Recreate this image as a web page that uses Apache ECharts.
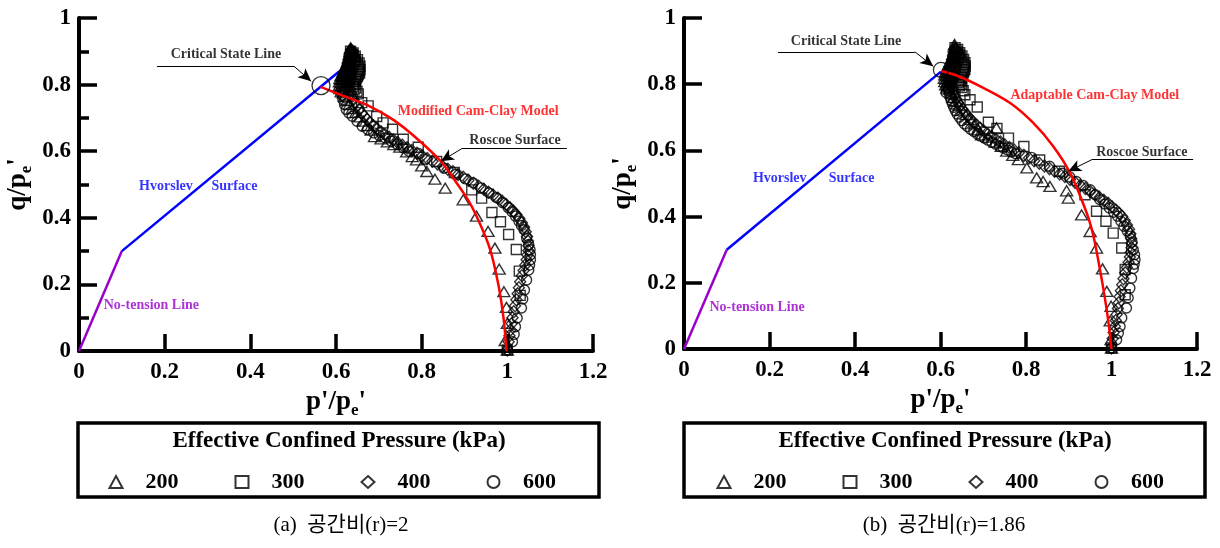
<!DOCTYPE html>
<html><head><meta charset="utf-8">
<script src="https://cdn.jsdelivr.net/npm/echarts@6/dist/echarts.min.js"></script>
<style>html,body{margin:0;padding:0;background:#fff}#c{width:1220px;height:548px}</style>
</head><body><div id="c"></div>
<script>
// ---------- data (panel a: r = 2) ----------
const legendNames = ['200','300','400','600'];
const noTensionA = [[0,0],[0.1,0.3]];
const hvorslevA = [[0.1,0.3],[0.608,0.84]];
const mccA = [[0.564,0.793],[0.617,0.766],[0.672,0.739],[0.734,0.694],[0.788,0.639],[0.843,0.572],[0.876,0.515],[0.91,0.45],[0.935,0.385],[0.96,0.304],[0.979,0.2],[0.991,0.1],[0.998,0.0]];
const cslA = [[0.565,0.797]];
const tri200A = [[0.634,0.91],[0.635,0.9],[0.633,0.89],[0.63,0.878],[0.627,0.868],[0.623,0.858],[0.619,0.848],[0.616,0.838],[0.612,0.828],[0.609,0.818],[0.608,0.808],[0.608,0.798],[0.609,0.788],[0.612,0.778],[0.633,0.905],[0.632,0.895],[0.631,0.885],[0.629,0.875],[0.627,0.865],[0.624,0.855],[0.621,0.845],[0.618,0.835],[0.615,0.825],[0.613,0.815],[0.612,0.805],[0.612,0.795],[0.614,0.785],[0.617,0.775],[0.62,0.765],[0.625,0.752],[0.631,0.74],[0.638,0.728],[0.646,0.716],[0.655,0.703],[0.664,0.69],[0.673,0.677],[0.682,0.663],[0.69,0.644],[0.705,0.637],[0.72,0.628],[0.735,0.62],[0.749,0.612],[0.765,0.598],[0.778,0.584],[0.788,0.574],[0.80,0.556],[0.812,0.539],[0.831,0.516],[0.855,0.489],[0.897,0.454],[0.928,0.405],[0.955,0.359],[0.971,0.309],[0.981,0.246],[0.992,0.178],[0.998,0.131],[1.0,0.083],[0.995,0.031],[1.0,0.003]];
const sq300A = [[0.64,0.895],[0.645,0.885],[0.65,0.875],[0.654,0.865],[0.656,0.855],[0.656,0.845],[0.655,0.835],[0.65,0.825],[0.645,0.815],[0.64,0.805],[0.64,0.795],[0.642,0.785],[0.634,0.9],[0.638,0.89],[0.642,0.88],[0.646,0.87],[0.65,0.86],[0.653,0.85],[0.654,0.84],[0.652,0.83],[0.648,0.82],[0.645,0.81],[0.644,0.80],[0.646,0.79],[0.649,0.78],[0.652,0.772],[0.66,0.746],[0.675,0.736],[0.695,0.704],[0.71,0.685],[0.732,0.666],[0.757,0.636],[0.792,0.612],[0.835,0.569],[0.876,0.536],[0.917,0.484],[0.94,0.459],[0.964,0.416],[0.984,0.388],[1.003,0.35],[1.021,0.305],[1.028,0.24],[1.03,0.167],[1.0,0.003]];
const dia400A = [[0.638,0.9],[0.64,0.89],[0.638,0.88],[0.636,0.87],[0.634,0.86],[0.632,0.85],[0.63,0.84],[0.63,0.83],[0.632,0.82],[0.634,0.81],[0.635,0.905],[0.633,0.895],[0.631,0.885],[0.629,0.875],[0.627,0.865],[0.626,0.855],[0.625,0.845],[0.625,0.835],[0.626,0.825],[0.627,0.815],[0.629,0.805],[0.631,0.795],[0.633,0.785],[0.635,0.775],[0.638,0.765],[0.641,0.755],[0.645,0.745],[0.649,0.735],[0.654,0.725],[0.66,0.715],[0.666,0.705],[0.673,0.695],[0.68,0.685],[0.688,0.676],[0.696,0.667],[0.705,0.658],[0.714,0.65],[0.724,0.642],[0.734,0.634],[0.744,0.626],[0.755,0.618],[0.766,0.61],[0.777,0.602],[0.789,0.594],[0.801,0.586],[0.813,0.578],[0.825,0.57],[0.837,0.562],[0.849,0.554],[0.861,0.546],[0.873,0.538],[0.885,0.53],[0.897,0.522],[0.909,0.513],[0.921,0.504],[0.933,0.495],[0.945,0.486],[0.956,0.477],[0.967,0.468],[0.978,0.459],[0.988,0.45],[0.997,0.44],[1.006,0.43],[1.014,0.42],[1.021,0.41],[1.028,0.398],[1.034,0.385],[1.039,0.372],[1.043,0.358],[1.046,0.344],[1.048,0.33],[1.049,0.316],[1.049,0.302],[1.047,0.288],[1.045,0.274],[1.042,0.258],[1.038,0.242],[1.034,0.226],[1.03,0.208],[1.027,0.19],[1.024,0.172],[1.021,0.154],[1.018,0.136],[1.015,0.118],[1.012,0.1],[1.01,0.082],[1.008,0.064],[1.005,0.046],[1.003,0.028],[1.0,0.003]];
const circ600A = [[0.644,0.88],[0.646,0.87],[0.643,0.86],[0.64,0.85],[0.638,0.84],[0.636,0.83],[0.635,0.82],[0.633,0.81],[0.628,0.8],[0.624,0.79],[0.62,0.78],[0.622,0.76],[0.636,0.9],[0.634,0.89],[0.632,0.88],[0.63,0.87],[0.628,0.86],[0.626,0.85],[0.624,0.84],[0.622,0.83],[0.62,0.82],[0.618,0.81],[0.617,0.80],[0.616,0.79],[0.615,0.78],[0.615,0.768],[0.616,0.755],[0.62,0.74],[0.624,0.725],[0.63,0.715],[0.638,0.705],[0.649,0.69],[0.661,0.675],[0.674,0.665],[0.688,0.655],[0.701,0.647],[0.715,0.64],[0.729,0.63],[0.743,0.62],[0.757,0.61],[0.77,0.60],[0.793,0.593],[0.808,0.576],[0.852,0.549],[0.879,0.53],[0.902,0.517],[0.92,0.505],[0.938,0.49],[0.957,0.475],[0.975,0.46],[0.989,0.445],[1.002,0.43],[1.011,0.418],[1.019,0.405],[1.027,0.39],[1.033,0.377],[1.039,0.364],[1.045,0.339],[1.05,0.32],[1.053,0.304],[1.054,0.289],[1.054,0.274],[1.052,0.258],[1.05,0.243],[1.045,0.213],[1.04,0.183],[1.036,0.156],[1.033,0.129],[1.023,0.099],[1.019,0.073],[1.016,0.05],[1.012,0.028],[1.0,0.003]];

// ---------- data (panel b: r = 1.86) ----------
const noTensionB = [[0,0],[0.1,0.3]];
const hvorslevB = [[0.1,0.3],[0.601,0.838]];
const accB = [[0.603,0.839],[0.642,0.824],[0.70,0.789],[0.763,0.743],[0.817,0.683],[0.864,0.612],[0.903,0.532],[0.942,0.411],[0.958,0.34],[0.973,0.24],[0.985,0.15],[0.994,0.07],[1.0,0.0]];
const cslB = [[0.601,0.843]];
const tri200B = [[0.633,0.92],[0.634,0.91],[0.632,0.9],[0.629,0.888],[0.626,0.878],[0.622,0.868],[0.618,0.858],[0.615,0.848],[0.612,0.838],[0.61,0.828],[0.609,0.818],[0.61,0.808],[0.612,0.798],[0.615,0.788],[0.632,0.915],[0.632,0.905],[0.631,0.895],[0.629,0.885],[0.627,0.875],[0.624,0.865],[0.621,0.855],[0.618,0.845],[0.616,0.835],[0.615,0.825],[0.615,0.815],[0.616,0.805],[0.618,0.795],[0.621,0.785],[0.625,0.773],[0.63,0.76],[0.636,0.748],[0.643,0.735],[0.651,0.722],[0.66,0.708],[0.67,0.694],[0.68,0.68],[0.688,0.662],[0.696,0.647],[0.712,0.64],[0.731,0.668],[0.728,0.625],[0.742,0.612],[0.755,0.598],[0.769,0.585],[0.782,0.572],[0.802,0.547],[0.825,0.517],[0.84,0.506],[0.856,0.491],[0.895,0.478],[0.899,0.456],[0.93,0.405],[0.95,0.355],[0.965,0.305],[0.979,0.242],[0.989,0.174],[0.999,0.129],[0.997,0.085],[0.999,0.028],[1.0,0.003]];
const sq300B = [[0.64,0.905],[0.645,0.895],[0.65,0.885],[0.654,0.875],[0.657,0.865],[0.658,0.855],[0.657,0.845],[0.653,0.835],[0.648,0.825],[0.643,0.815],[0.642,0.805],[0.644,0.795],[0.634,0.91],[0.638,0.9],[0.642,0.89],[0.646,0.88],[0.65,0.87],[0.653,0.86],[0.655,0.85],[0.655,0.84],[0.652,0.83],[0.649,0.82],[0.647,0.81],[0.648,0.80],[0.65,0.79],[0.653,0.78],[0.657,0.768],[0.669,0.753],[0.686,0.731],[0.712,0.685],[0.732,0.666],[0.759,0.637],[0.795,0.612],[0.832,0.571],[0.878,0.537],[0.938,0.466],[0.965,0.416],[0.987,0.386],[1.004,0.35],[1.024,0.305],[1.032,0.24],[1.032,0.164],[1.0,0.003]];
const dia400B = [[0.637,0.905],[0.639,0.895],[0.637,0.885],[0.635,0.875],[0.633,0.865],[0.631,0.855],[0.629,0.845],[0.628,0.835],[0.629,0.825],[0.631,0.815],[0.633,0.905],[0.631,0.895],[0.629,0.885],[0.627,0.875],[0.625,0.865],[0.623,0.855],[0.622,0.845],[0.621,0.835],[0.621,0.825],[0.622,0.815],[0.623,0.805],[0.625,0.795],[0.627,0.785],[0.63,0.775],[0.633,0.765],[0.637,0.755],[0.641,0.745],[0.646,0.735],[0.651,0.725],[0.657,0.715],[0.663,0.705],[0.67,0.695],[0.677,0.685],[0.685,0.676],[0.693,0.667],[0.702,0.658],[0.711,0.649],[0.72,0.641],[0.73,0.633],[0.74,0.625],[0.75,0.617],[0.761,0.609],[0.772,0.601],[0.783,0.593],[0.795,0.585],[0.807,0.577],[0.819,0.569],[0.831,0.561],[0.843,0.553],[0.855,0.545],[0.867,0.537],[0.879,0.529],[0.891,0.521],[0.903,0.512],[0.915,0.503],[0.927,0.494],[0.939,0.485],[0.95,0.476],[0.961,0.467],[0.972,0.458],[0.982,0.449],[0.992,0.44],[1.001,0.43],[1.01,0.42],[1.018,0.41],[1.025,0.4],[1.031,0.388],[1.036,0.375],[1.041,0.362],[1.044,0.348],[1.046,0.334],[1.047,0.32],[1.047,0.306],[1.045,0.292],[1.043,0.278],[1.04,0.262],[1.036,0.246],[1.032,0.23],[1.028,0.212],[1.025,0.194],[1.022,0.176],[1.019,0.158],[1.017,0.14],[1.015,0.122],[1.012,0.104],[1.01,0.086],[1.008,0.068],[1.005,0.05],[1.003,0.032],[1.0,0.003]];
const circ600B = [[0.643,0.89],[0.645,0.88],[0.642,0.87],[0.639,0.86],[0.636,0.85],[0.634,0.84],[0.632,0.83],[0.629,0.82],[0.626,0.81],[0.623,0.80],[0.614,0.79],[0.613,0.775],[0.634,0.9],[0.632,0.89],[0.63,0.88],[0.628,0.87],[0.626,0.86],[0.624,0.85],[0.622,0.84],[0.621,0.83],[0.62,0.82],[0.619,0.81],[0.619,0.80],[0.619,0.79],[0.62,0.78],[0.621,0.77],[0.623,0.76],[0.625,0.75],[0.628,0.74],[0.631,0.73],[0.635,0.72],[0.639,0.71],[0.644,0.70],[0.65,0.69],[0.656,0.68],[0.663,0.672],[0.67,0.664],[0.678,0.657],[0.686,0.65],[0.694,0.643],[0.703,0.637],[0.711,0.631],[0.72,0.625],[0.729,0.619],[0.738,0.613],[0.747,0.607],[0.757,0.601],[0.766,0.595],[0.776,0.59],[0.813,0.579],[0.855,0.552],[0.886,0.531],[0.902,0.52],[0.918,0.506],[0.934,0.494],[0.95,0.481],[0.962,0.466],[0.973,0.451],[0.984,0.438],[0.995,0.426],[1.005,0.413],[1.014,0.401],[1.022,0.386],[1.029,0.371],[1.037,0.356],[1.044,0.341],[1.048,0.323],[1.051,0.30],[1.054,0.285],[1.055,0.27],[1.053,0.256],[1.051,0.243],[1.047,0.214],[1.043,0.184],[1.039,0.155],[1.035,0.124],[1.024,0.094],[1.02,0.068],[1.016,0.048],[1.012,0.028],[1.0,0.003]];

// ---------- annotations (data coordinates) ----------
const notesA = [
  ['Critical State Line', 0.343, 0.891, '#000000'],
  ['Roscoe Surface', 1.018, 0.632, '#000000'],
  ['Modified Cam-Clay Model', 0.932, 0.719, '#ff0000'],
  ['Hvorslev', 0.203, 0.495, '#0000ff'],
  ['Surface', 0.363, 0.495, '#0000ff'],
  ['No-tension Line', 0.169, 0.138, '#9900cc']
];
const leadersA = [[[0.182,0.855],[0.502,0.855],[0.542,0.81]], [[1.139,0.608],[0.894,0.608],[0.845,0.57]]];
const notesB = [
  ['Critical State Line', 0.379, 0.93, '#000000'],
  ['Roscoe Surface', 1.071, 0.594, '#000000'],
  ['Adaptable Cam-Clay Model', 0.961, 0.765, '#ff0000'],
  ['Hvorslev', 0.224, 0.514, '#0000ff'],
  ['Surface', 0.392, 0.514, '#0000ff'],
  ['No-tension Line', 0.171, 0.125, '#9900cc']
];
const leadersB = [[[0.22,0.898],[0.54,0.898],[0.583,0.854]], [[1.191,0.572],[0.954,0.572],[0.899,0.537]]];

// ---------- chart ----------
const SERIF = '"Liberation Serif","Times New Roman",serif';
const chart = echarts.init(document.getElementById('c'), null, {renderer:'canvas'});

function xAx(gi){
  return {type:'value', gridIndex:gi, min:0, max:1.2, interval:0.2,
    axisLine:{show:true, onZero:false, lineStyle:{color:'#000', width:4}},
    axisTick:{show:true, inside:true, length:17, lineStyle:{color:'#000', width:3.5}},
    axisLabel:{color:'#000', fontFamily:SERIF, fontWeight:'bold', fontSize:23, margin:10},
    splitLine:{show:false},
    name:"{a|p'/p}{s|e}{a|'}", nameLocation:'middle', nameGap:28,
    nameTextStyle:{rich:{
      a:{fontFamily:SERIF, fontWeight:'bold', fontSize:27, color:'#000', lineHeight:30, verticalAlign:'top'},
      s:{fontFamily:SERIF, fontWeight:'bold', fontSize:17, color:'#000', lineHeight:16, verticalAlign:'bottom'}}}
  };
}
function yAx(gi, minor){
  return {type:'value', gridIndex:gi, min:0, max:1, interval:0.2,
    axisLine:{show:true, onZero:false, lineStyle:{color:'#000', width:4}},
    axisTick:{show:true, inside:true, length:18, lineStyle:{color:'#000', width:3.5}},
    minorTick:{show:minor, splitNumber:2, length:10, lineStyle:{color:'#000', width:3.5}},
    axisLabel:{color:'#000', fontFamily:SERIF, fontWeight:'bold', fontSize:23, margin:8},
    splitLine:{show:false}, minorSplitLine:{show:false},
    name:"{a|q/p}{s|e}{a|'}", nameLocation:'middle', nameGap:44,
    nameTextStyle:{rich:{
      a:{fontFamily:SERIF, fontWeight:'bold', fontSize:27, color:'#000', lineHeight:30, verticalAlign:'top'},
      s:{fontFamily:SERIF, fontWeight:'bold', fontSize:17, color:'#000', lineHeight:16, verticalAlign:'bottom'}}}
  };
}
function lineS(data, color, gi, z, smooth){
  return {type:'line', data, xAxisIndex:gi, yAxisIndex:gi, symbol:'none', smooth:smooth||false,
    lineStyle:{color, width:2.5}, z, silent:true, animation:false};
}
function openS(name, symbol, size, data, gi){
  return {type:'scatter', name, symbol, symbolSize:size, data, xAxisIndex:gi, yAxisIndex:gi,
    itemStyle:{color:'rgba(255,255,255,0)', borderColor:'#000', borderWidth:1.4},
    z:3, silent:true, animation:false, emphasis:{disabled:true}};
}
function notesS(notes, leaders, gi){
  const mlData = [];
  leaders.forEach(l => {
    mlData.push([{coord:l[0], symbol:'none'}, {coord:l[1], symbol:'none'}]);
    mlData.push([{coord:l[1], symbol:'none'}, {coord:l[2], symbol:'arrow'}]);
  });
  return {type:'scatter', name:'notes', xAxisIndex:gi, yAxisIndex:gi, symbolSize:1, silent:true, animation:false, z:6,
    itemStyle:{color:'rgba(0,0,0,0)'},
    data: notes.map(n => ({value:[n[1], n[2]], label:{show:true, position:'inside', formatter:n[0],
      color:n[3], fontFamily:SERIF, fontWeight:'bold', fontSize:14}})),
    markLine:{silent:true, animation:false, symbol:['none','arrow'], symbolSize:[9,13],
      label:{show:false}, lineStyle:{color:'#000', width:1, type:'solid'}, emphasis:{disabled:true},
      data: mlData}
  };
}
function cslS(data, size, gi){
  return {type:'scatter', name:'csl', data, symbol:'circle', symbolSize:size, xAxisIndex:gi, yAxisIndex:gi,
    itemStyle:{color:'rgba(255,255,255,0)', borderColor:'#000', borderWidth:1.3}, z:7, silent:true, animation:false};
}
function legendC(left){
  return {data:legendNames, left, top:466, orient:'horizontal', itemWidth:13, itemHeight:12, itemGap:56,
    selectedMode:false, textStyle:{color:'#000', fontFamily:SERIF, fontWeight:'bold', fontSize:22, padding:[0,0,0,18]}};
}

const option = {
  backgroundColor:'#fff',
  animation:false,
  grid:[{left:79, top:18, width:514, height:333}, {left:684, top:18, width:513, height:331}],
  xAxis:[xAx(0), xAx(1)],
  yAxis:[yAx(0,true), yAx(1,false)],
  legend:[legendC(103.5), legendC(711.5)],
  series:[
    lineS(noTensionA, '#9900cc', 0, 2), lineS(hvorslevA, '#0000ff', 0, 2),
    openS('200','triangle',[12,10],tri200A,0), openS('300','rect',10,sq300A,0),
    openS('400','diamond',[11,12],dia400A,0), openS('600','circle',10,circ600A,0),
    lineS(mccA, '#ff0000', 0, 4, 0.35), cslS(cslA, 18, 0), notesS(notesA, leadersA, 0),
    lineS(noTensionB, '#9900cc', 1, 2), lineS(hvorslevB, '#0000ff', 1, 2),
    openS('200','triangle',[12,10],tri200B,1), openS('300','rect',10,sq300B,1),
    openS('400','diamond',[11,12],dia400B,1), openS('600','circle',10,circ600B,1),
    lineS(accB, '#ff0000', 1, 4, 0.35), cslS(cslB, 15, 1), notesS(notesB, leadersB, 1)
  ],
  graphic:[
    {type:'rect', shape:{x:78, y:423, width:521, height:74}, style:{fill:'none', stroke:'#000', lineWidth:3.5}},
    {type:'text', x:339, y:441, style:{text:'Effective Confined Pressure (kPa)', fill:'#000', font:'bold 23px '+SERIF, align:'center', verticalAlign:'middle'}},
    {type:'text', x:341, y:525, style:{text:'(a)  공간비(r)=2', fill:'#000', font:'21px "Liberation Serif","Noto Sans CJK KR",serif', align:'center', verticalAlign:'middle'}},
    {type:'rect', shape:{x:684, y:423, width:521, height:74}, style:{fill:'none', stroke:'#000', lineWidth:3.5}},
    {type:'text', x:945, y:441, style:{text:'Effective Confined Pressure (kPa)', fill:'#000', font:'bold 23px '+SERIF, align:'center', verticalAlign:'middle'}},
    {type:'text', x:944, y:525, style:{text:'(b)  공간비(r)=1.86', fill:'#000', font:'21px "Liberation Serif","Noto Sans CJK KR",serif', align:'center', verticalAlign:'middle'}}
  ]
};
chart.setOption(option);
</script></body></html>
